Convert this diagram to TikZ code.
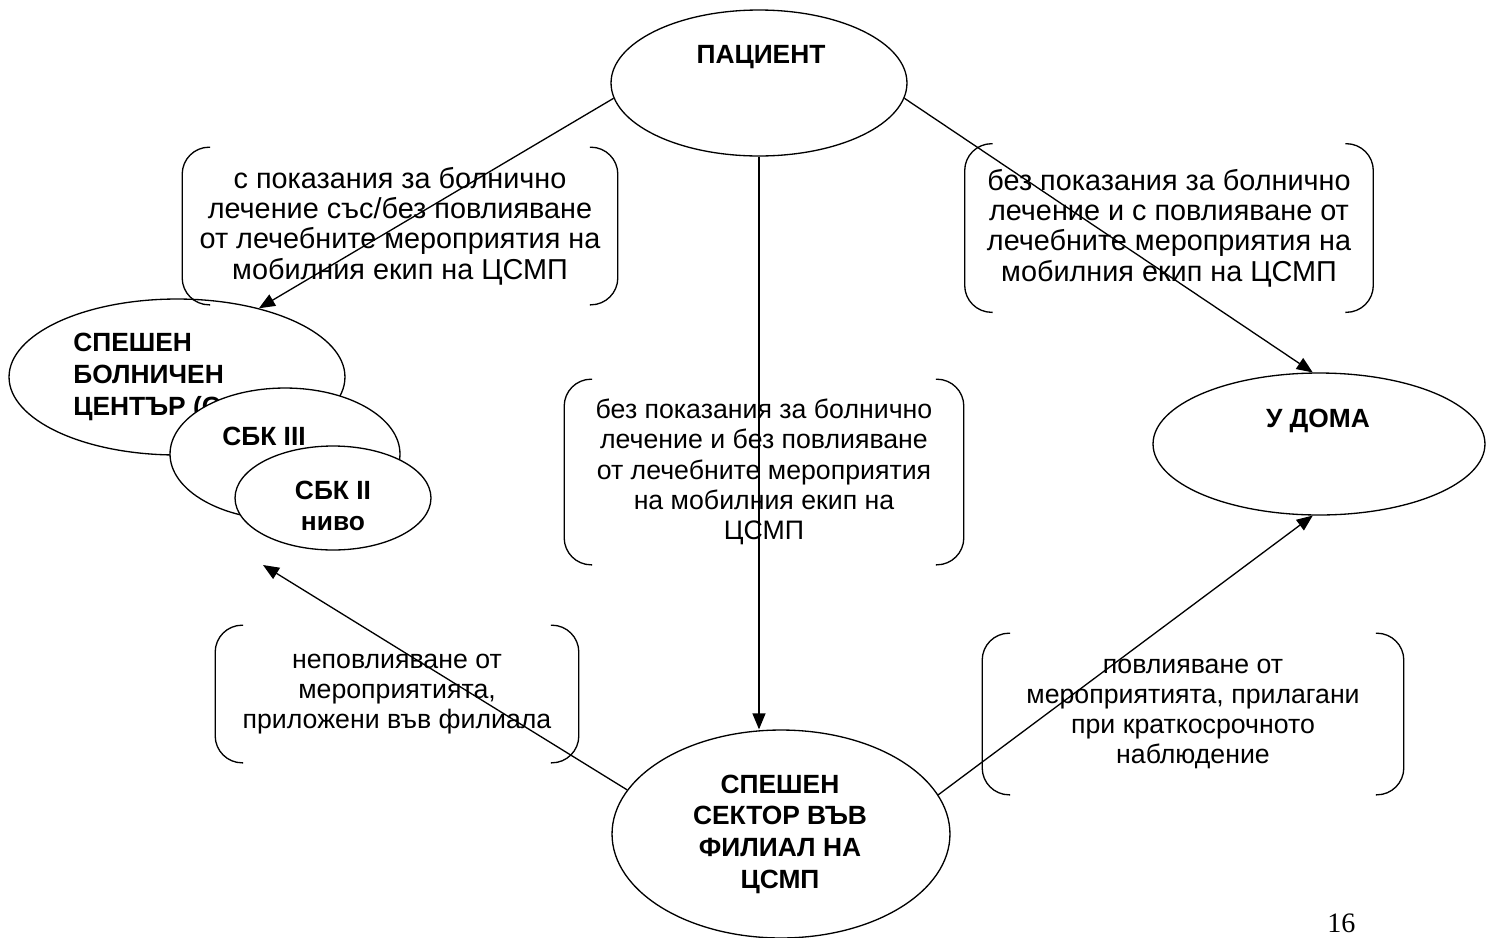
\documentclass[tikz,border=0pt]{standalone}
\usepackage{fontspec}
\setmainfont{Liberation Sans}
\newfontfamily\pagefont{Liberation Serif}
\usetikzlibrary{arrows.meta,shapes.geometric}
\tikzset{
  oval/.style={ellipse,draw=black,line width=0.75pt,fill=white,inner sep=0pt},
  otext/.style={font=\fontsize{15}{18}\selectfont\bfseries,inner sep=0pt,align=center},
  ntext/.style={font=\fontsize{15.2}{17.2}\selectfont,inner sep=0pt,align=center},
  wtext/.style={ntext,font=\fontsize{16.4}{17.2}\selectfont},
  flow/.style={line width=0.75pt,-{Triangle[length=0.32cm,width=0.26cm]}},
  brk/.style={line width=0.75pt,rounded corners=0.54cm}
}

\begin{document}
\begin{tikzpicture}[x=0.02cm,y=-0.02cm]
\useasboundingbox (0,0) rectangle (1495,937);
% ovals
\node[oval,minimum width=5.92cm,minimum height=2.92cm] (pac) at (759,83){};
\node[otext] (pacT) at (761,57){ПАЦИЕНТ};
\node[oval,minimum width=6.64cm,minimum height=2.84cm] (udom) at (1319,444){};
\node[otext] (udomT) at (1318,421){У ДОМА};
\node[oval,minimum width=6.76cm,minimum height=4.16cm] (fil) at (781,834){};
\node[otext] (filT) at (780,834){СПЕШЕН\\СЕКТОР ВЪВ\\ФИЛИАЛ НА\\ЦСМП};
% hospital cluster, drawn back to front
\node[oval,minimum width=6.72cm,minimum height=3.12cm] (sbc) at (177,377){};
\node[otext,align=left,anchor=west] (sbcT) at (73,377){СПЕШЕН\\БОЛНИЧЕН\\ЦЕНТЪР (С};
\node[oval,minimum width=4.6cm,minimum height=2.64cm] (sbk3) at (285,454){};
\node[otext] (sbk3T) at (264,436){СБК III};
\node[oval,minimum width=3.92cm,minimum height=2.08cm] (sbk2) at (333,498){};
\node[otext] (sbk2T) at (333,506){СБК II\\ниво};
% bracketed notes
\node[wtext,minimum width=8.7cm,minimum height=3.14cm] (noteA) at (400,226){с показания за болнично\\лечение със/без повлияване\\от лечебните мероприятия на\\мобилния екип на ЦСМП};
\node[wtext,minimum width=8.16cm,minimum height=3.36cm] (noteB) at (1169,228){без показания за болнично\\лечение и с повлияване от\\лечебните мероприятия на\\мобилния екип на ЦСМП};
\node[ntext,minimum width=7.98cm,minimum height=3.7cm] (noteC) at (764,472){без показания за болнично\\лечение и без повлияване\\от лечебните мероприятия\\на мобилния екип на\\ЦСМП};
\node[ntext,minimum width=7.26cm,minimum height=2.74cm] (noteD) at (397,694){неповлияване от\\мероприятията,\\приложени във филиала};
\node[ntext,minimum width=8.42cm,minimum height=3.22cm] (noteE) at (1193,714){повлияване от\\мероприятията, прилагани\\при краткосрочното\\наблюдение};
\foreach \nb in {noteA,noteB,noteC,noteD,noteE}{
  \draw[brk] ([xshift=0.56cm]\nb.north west) -- (\nb.north west) -- (\nb.south west) -- ([xshift=0.56cm]\nb.south west);
  \draw[brk] ([xshift=-0.56cm]\nb.north east) -- (\nb.north east) -- (\nb.south east) -- ([xshift=-0.56cm]\nb.south east);
}
% flows
\coordinate (sbkin) at (263,565);
\draw[flow] (pac.186) -- (sbc.40);
\draw[flow] (pac.south) -- (pac.south |- fil.north);
\draw[flow] (pac.-6) -- (udom.95);
\draw[flow] (fil.164) -- (sbkin);
\draw[flow] (fil.14) -- (udom.265);
\node[font=\pagefont\fontsize{16}{19}\selectfont,anchor=base west,inner sep=0pt] (pnum) at (1327,932){16};
\end{tikzpicture}
\end{document}
